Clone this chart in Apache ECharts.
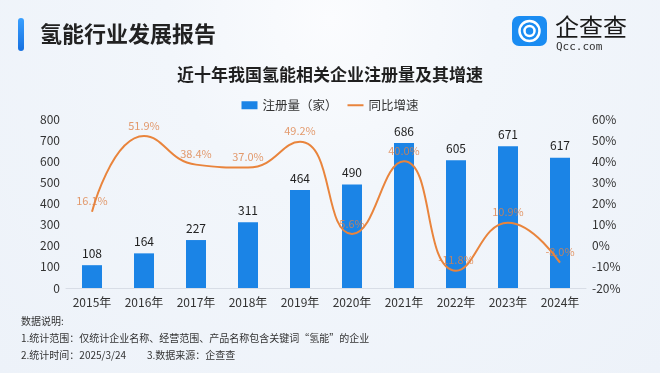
<!DOCTYPE html>
<html><head><meta charset="utf-8">
<script src="https://cdn.jsdelivr.net/npm/echarts@6/dist/echarts.min.js"></script>
<style>
html,body{margin:0;padding:0;width:660px;height:373px;overflow:hidden;
background:radial-gradient(ellipse at 50% 5%, #fbfcfe 0%, #f2f6fb 35%, #edf2f9 100%);}
#c{width:660px;height:373px;}
</style></head><body><div id="c"></div>
<script>
const years = ['2015年','2016年','2017年','2018年','2019年','2020年','2021年','2022年','2023年','2024年'];
const registrations = [108,164,227,311,464,490,686,605,671,617];
const growth = [16.1,51.9,38.4,37.0,49.2,5.6,40.0,-11.8,10.9,-8.0];
const leftTicks = {min:0,max:800,interval:100};
const rightTicks = {min:-20,max:60,interval:10};
const notes = ['数据说明:','1.统计范围：仅统计企业名称、经营范围、产品名称包含关键词“氢能”的企业','2.统计时间：2025/3/24','3.数据来源：企查查'];

const font = '"Noto Sans CJK SC","Noto Sans",sans-serif';
const chart = echarts.init(document.getElementById('c'));
chart.setOption({
  animation:false,
  textStyle:{fontFamily:font},
  title:{text:'近十年我国氢能相关企业注册量及其增速',left:'center',top:61,
    textStyle:{fontSize:17,fontWeight:'bold',color:'#1f1f1f',fontFamily:font}},
  legend:{top:94,left:'center',itemGap:10,itemWidth:16,itemHeight:8,
    textStyle:{fontSize:12.5,color:'#333',fontFamily:font},
    data:[{name:'注册量（家）',icon:'rect'},{name:'同比增速',icon:'path://M0,0 L16,0 L16,2 L0,2 Z'}]},
  grid:{left:66,right:74,top:119,bottom:85},
  xAxis:{type:'category',data:years,
    axisLine:{lineStyle:{color:'#d8dde6'}},axisTick:{show:false},
    axisLabel:{color:'#333',fontSize:12,margin:8,fontFamily:font}},
  yAxis:[
    {type:'value',min:leftTicks.min,max:leftTicks.max,interval:leftTicks.interval,
     splitLine:{show:false},axisLine:{show:false},axisTick:{show:false},
     axisLabel:{color:'#333',fontSize:12,margin:6}},
    {type:'value',min:rightTicks.min,max:rightTicks.max,interval:rightTicks.interval,
     splitLine:{show:false},axisLine:{show:false},axisTick:{show:false},
     axisLabel:{color:'#333',fontSize:12,margin:6,formatter:'{value}%'}}
  ],
  series:[
    {name:'注册量（家）',type:'bar',data:registrations,barWidth:20,
     itemStyle:{color:'#1b84e6'},
     label:{show:true,position:'top',color:'#222',fontSize:12,distance:6}},
    {name:'同比增速',type:'line',yAxisIndex:1,data:growth,smooth:0.5,
     symbol:'circle',symbolSize:0.01,showSymbol:true,
     lineStyle:{color:'#e9843c',width:2},itemStyle:{color:'#e9843c'},
     label:{show:true,position:'top',distance:5,fontSize:11,color:'rgba(222,130,72,0.8)',
       formatter:p=>p.value.toFixed(1)+'%'}}
  ],
  graphic:[
    {type:'rect',shape:{x:18,y:18,width:6,height:33,r:3},
     style:{fill:new echarts.graphic.LinearGradient(0,0,0,1,[{offset:0,color:'#3aa0ff'},{offset:1,color:'#1670e0'}])}},
    {type:'text',style:{x:40,y:34,text:'氢能行业发展报告',fill:'#222',font:'bold 22px '+font,textVerticalAlign:'middle'}},
    {type:'rect',shape:{x:512,y:16,width:35,height:30,r:7},style:{fill:'#1a8cf2'}},
    {type:'circle',shape:{cx:529.5,cy:31,r:10},style:{fill:'none',stroke:'#fff',lineWidth:2.5}},
    {type:'circle',shape:{cx:529.5,cy:31,r:5},style:{fill:'none',stroke:'#fff',lineWidth:2.5}},
    {type:'text',style:{x:555,y:27,text:'企查查',fill:'#1a1a1a',font:'24px '+font,textVerticalAlign:'middle'}},
    {type:'text',style:{x:556,y:47,text:'Qcc.com',fill:'#333',font:'11px "DejaVu Sans Mono",monospace',textVerticalAlign:'middle'}},
    {type:'text',style:{x:21,y:321,text:notes[0],fill:'#333',font:'10px '+font,textVerticalAlign:'middle'}},
    {type:'text',style:{x:21,y:338,text:notes[1],fill:'#333',font:'10px '+font,textVerticalAlign:'middle'}},
    {type:'text',style:{x:21,y:355,text:notes[2],fill:'#333',font:'10px '+font,textVerticalAlign:'middle'}},
    {type:'text',style:{x:147,y:355,text:notes[3],fill:'#333',font:'10px '+font,textVerticalAlign:'middle'}}
  ]
});
</script></body></html>
